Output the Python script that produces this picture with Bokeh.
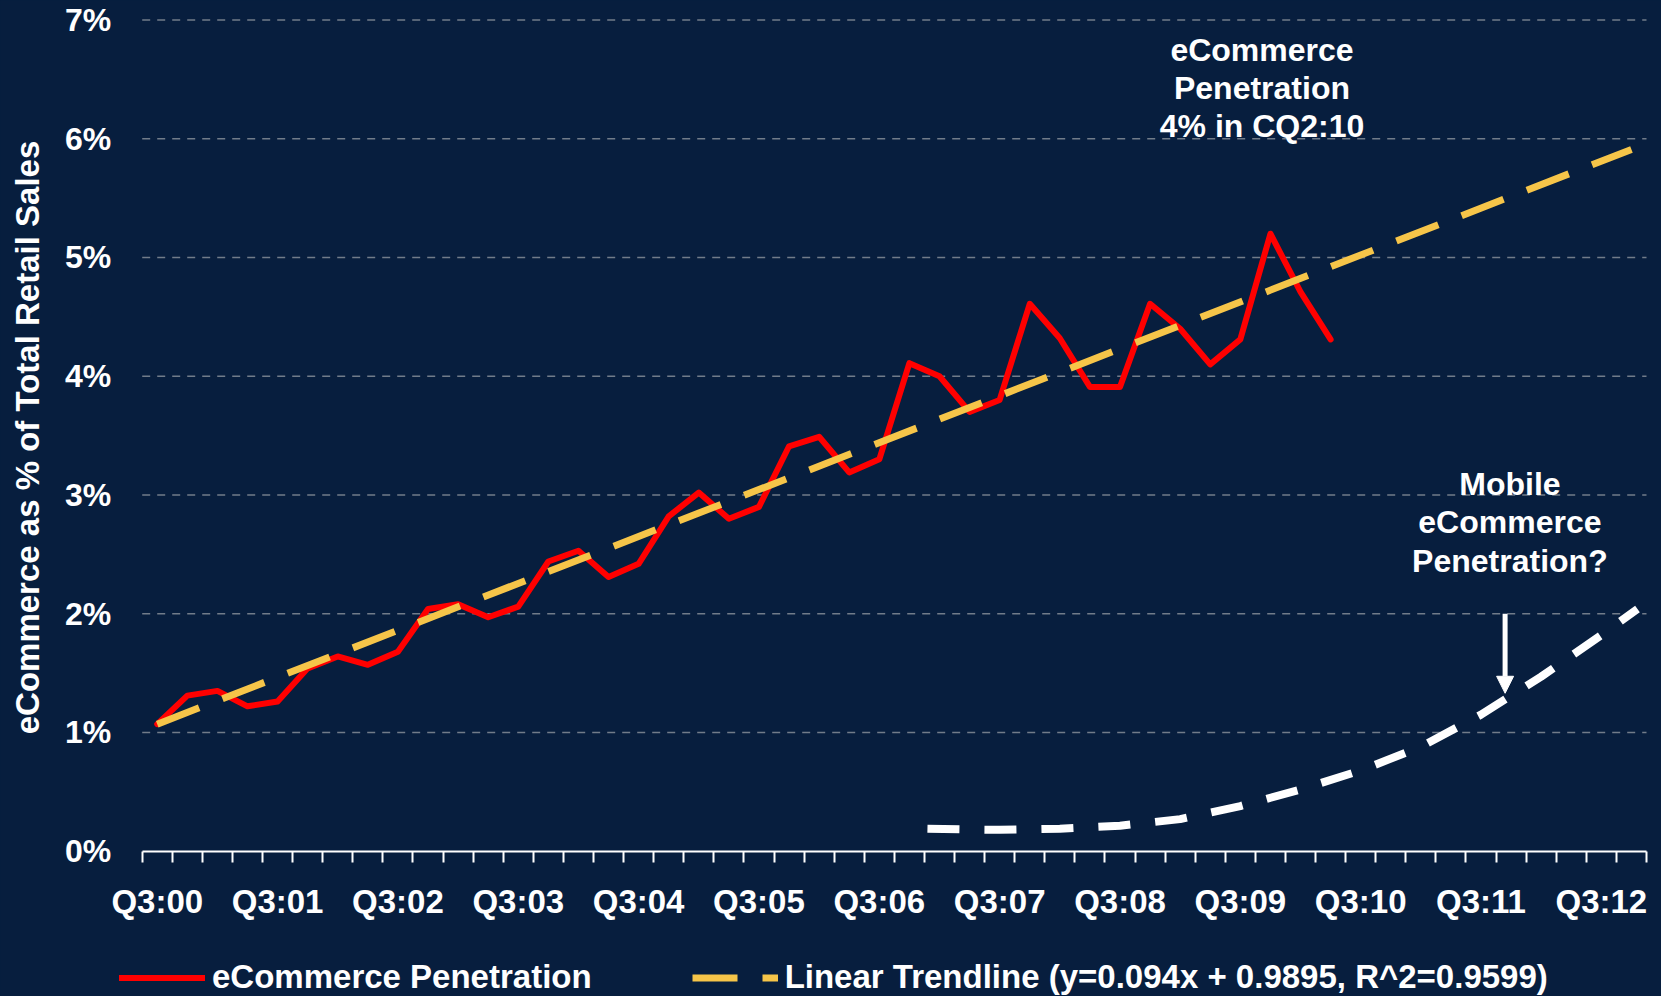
from math import pi
from bokeh.plotting import figure
from bokeh.models import (Range1d, FixedTicker, Legend, LegendItem, Label, Arrow,
                          NormalHead, LinearAxis)
from bokeh.embed import file_html
from bokeh.resources import INLINE

# ---------------- data ----------------
categories = [
    "Q3:00", "Q4:00", "Q1:01", "Q2:01", "Q3:01", "Q4:01", "Q1:02", "Q2:02",
    "Q3:02", "Q4:02", "Q1:03", "Q2:03", "Q3:03", "Q4:03", "Q1:04", "Q2:04",
    "Q3:04", "Q4:04", "Q1:05", "Q2:05", "Q3:05", "Q4:05", "Q1:06", "Q2:06",
    "Q3:06", "Q4:06", "Q1:07", "Q2:07", "Q3:07", "Q4:07", "Q1:08", "Q2:08",
    "Q3:08", "Q4:08", "Q1:09", "Q2:09", "Q3:09", "Q4:09", "Q1:10", "Q2:10",
    "Q3:10", "Q4:10", "Q1:11", "Q2:11", "Q3:11", "Q4:11", "Q1:12", "Q2:12",
    "Q3:12", "Q4:12",
]
tick_labels = ["Q3:00", "Q3:01", "Q3:02", "Q3:03", "Q3:04", "Q3:05", "Q3:06",
               "Q3:07", "Q3:08", "Q3:09", "Q3:10", "Q3:11", "Q3:12"]
y_tick_labels = ["0%", "1%", "2%", "3%", "4%", "5%", "6%", "7%"]

# eCommerce penetration (% of total retail sales), Q3:00 .. Q2:10
ecommerce = [1.07, 1.31, 1.35, 1.22, 1.26, 1.54, 1.64, 1.57, 1.68, 2.04,
             2.08, 1.97, 2.06, 2.44, 2.53, 2.31, 2.42, 2.82, 3.02, 2.80,
             2.90, 3.41, 3.49, 3.19, 3.30, 4.11, 4.00, 3.70, 3.80, 4.61,
             4.32, 3.91, 3.91, 4.61, 4.40, 4.10, 4.31, 5.20, 4.71, 4.31]

# linear trendline as drawn (start / end quarter)
trend_quarters = ["Q3:00", "Q4:12"]
trend_values = [1.07, 5.91]

# hypothetical mobile eCommerce penetration curve (quarter position, %)
mobile_pos = [25.6, 27, 28, 30, 32, 34, 36, 38, 40, 42, 44, 46, 48, 49.2]
mobile_values = [0.19, 0.183, 0.18, 0.19, 0.215, 0.27, 0.38, 0.52, 0.68,
                 0.88, 1.15, 1.47, 1.82, 2.04]

series_names = ["eCommerce Penetration",
                "Linear Trendline (y=0.094x + 0.9895, R^2=0.9599)"]
y_title = "eCommerce as % of Total Retail Sales"
note_top = "eCommerce\nPenetration\n4% in CQ2:10"
note_mobile = "Mobile\neCommerce\nPenetration?"

# ---------------- layout / styles ----------------
W, H = 1661, 996
PLOT_L, PLOT_R, PLOT_T, PLOT_B = 141.7, 1646.0, 19.5, 850.7   # plot area, px
BG = "#071E3E"
FONT = "Liberation Sans"
FS = "32px"
FS_L = "33px"
RED = "#FF0000"
YELLOW = "#F6C549"

n_cat = len(categories)
y_max = len(y_tick_labels) - 1
ppu_x = (PLOT_R - PLOT_L) / n_cat
x_start = -0.5 - PLOT_L / ppu_x
x_end = x_start + W / ppu_x
ppu_y = (PLOT_B - PLOT_T) / y_max
y_end = y_max + PLOT_T / ppu_y
y_start = y_end - H / ppu_y


def px_to_x(px):
    return x_start + px / ppu_x


def py_to_y(py):
    return y_end - py / ppu_y


idx = {c: i for i, c in enumerate(categories)}
x_ecom = [idx[c] for c in categories[:len(ecommerce)]]
x_trend = [idx[c] for c in trend_quarters]
tick_pos = [idx[t] for t in tick_labels]
cat_lo, cat_hi = -0.5, n_cat - 0.5

p = figure(width=W, height=H, output_backend="svg", toolbar_location=None,
           x_range=Range1d(x_start, x_end), y_range=Range1d(y_start, y_end),
           x_axis_location=None, y_axis_location=None,
           min_border=0, min_border_left=0, min_border_right=0,
           min_border_top=0, min_border_bottom=0)
p.background_fill_color = BG
p.border_fill_color = BG
p.outline_line_color = None
p.grid.visible = False

# x axis (pinned at 0%)
xa = LinearAxis(fixed_location=0, bounds=(cat_lo, cat_hi))
xa.ticker = FixedTicker(ticks=tick_pos,
                        minor_ticks=[i - 0.5 for i in range(n_cat + 1)])
xa.major_label_overrides = {pos: lab for pos, lab in zip(tick_pos, tick_labels)}
xa.major_tick_out = 0
xa.major_tick_in = 0
xa.minor_tick_out = 11
xa.minor_tick_in = 0
xa.minor_tick_line_color = "white"
xa.minor_tick_line_width = 2
xa.axis_line_color = "white"
xa.axis_line_width = 2
xa.major_label_text_font = FONT
xa.major_label_text_font_size = FS_L
xa.major_label_text_font_style = "bold"
xa.major_label_text_color = "white"
xa.major_label_standoff = 21
p.add_layout(xa, "below")

# y axis (pinned at the left edge of the category area)
ya = LinearAxis(fixed_location=cat_lo, bounds=(0, y_max))
ya.ticker = FixedTicker(ticks=list(range(len(y_tick_labels))))
ya.major_label_overrides = {i: lab for i, lab in enumerate(y_tick_labels)}
ya.axis_line_color = None
ya.major_tick_out = 0
ya.major_tick_in = 0
ya.major_tick_line_color = None
ya.minor_tick_line_color = None
ya.major_label_text_font = FONT
ya.major_label_text_font_size = FS
ya.major_label_text_font_style = "bold"
ya.major_label_text_color = "white"
ya.major_label_standoff = 31
p.add_layout(ya, "left")

# horizontal dashed grid lines at the y ticks (above 0%)
grid_vals = list(range(1, len(y_tick_labels)))
p.segment(x0=[cat_lo] * len(grid_vals), x1=[cat_hi] * len(grid_vals),
          y0=grid_vals, y1=grid_vals, line_color="#8C939E", line_alpha=0.8,
          line_width=1.5, line_dash="8 7")

# lines
p.line(mobile_pos, mobile_values, line_color="white", line_width=8,
       line_dash="32 25")
r_red = p.line(x_ecom, ecommerce, line_color=RED, line_width=6,
               line_join="round", line_cap="round")
r_trend = p.line(x_trend, trend_values, line_color=YELLOW, line_width=7,
                 line_dash="45 25")

# y axis title
p.add_layout(Label(x=px_to_x(26.8), y=py_to_y(437), text=y_title, angle=pi / 2,
                   text_align="center", text_baseline="middle", text_color="white",
                   text_font=FONT, text_font_size=FS_L, text_font_style="bold"))

# annotations
p.add_layout(Label(x=36.72, y=6.426, text=note_top,
                   text_align="center", text_baseline="middle", text_color="white",
                   text_font=FONT, text_font_size=FS, text_font_style="bold",
                   text_line_height=1.065))
p.add_layout(Label(x=44.96, y=2.77, text=note_mobile,
                   text_align="center", text_baseline="middle", text_color="white",
                   text_font=FONT, text_font_size=FS, text_font_style="bold",
                   text_line_height=1.065))
p.add_layout(Arrow(end=NormalHead(size=17, fill_color="white", line_color="white"),
                   x_start=44.8, y_start=2.0, x_end=44.8, y_end=1.33,
                   line_color="white", line_width=5))

# legend along the bottom edge
legend = Legend(items=[
    LegendItem(label=series_names[0], renderers=[r_red]),
    LegendItem(label=series_names[1], renderers=[r_trend]),
], orientation="horizontal", location=(119, 0))
legend.background_fill_alpha = 0
legend.border_line_alpha = 0
legend.padding = 0
legend.margin = 0
legend.spacing = 100
legend.glyph_width = 86
legend.glyph_height = 37
legend.label_height = 37
legend.label_standoff = 7
legend.label_text_font = FONT
legend.label_text_font_size = FS_L
legend.label_text_font_style = "bold"
legend.label_text_color = "white"
p.add_layout(legend)

html = file_html(p, INLINE)
html = html.replace(
    "</head>",
    "<style>html,body{background:%s;overflow:hidden;}</style></head>" % BG, 1)
open("out.html", "w").write(html)
